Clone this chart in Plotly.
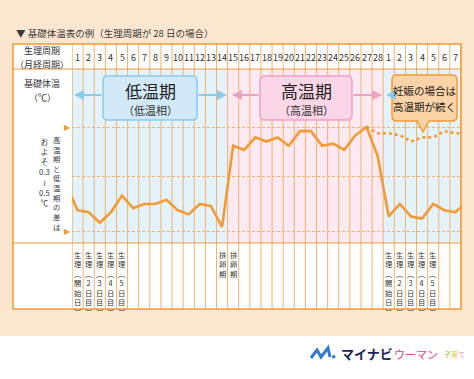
import plotly.graph_objects as go

# ---------------- data ----------------
days_solid = list(range(0, 37))  # day 0 / 36 are neighbouring-cycle days (clipped)
temps_solid = [36.22, 36.10, 36.09, 36.04, 36.09, 36.17, 36.11, 36.13, 36.13, 36.15,
               36.10, 36.08, 36.13, 36.12, 36.02, 36.41, 36.39, 36.45, 36.43, 36.45,
               36.41, 36.48, 36.48, 36.41, 36.42, 36.39, 36.46, 36.50, 36.36, 36.07,
               36.13, 36.07, 36.06, 36.13, 36.10, 36.09, 36.14]
days_preg = [27, 28, 29, 30, 31, 32, 33, 34, 35, 36]
temps_preg = [36.50, 36.47, 36.47, 36.46, 36.43, 36.45, 36.45, 36.48, 36.47, 36.47]
day_labels = [str(i) for i in range(1, 29)] + [str(i) for i in range(1, 8)]
grid_levels = [36.0, 36.26, 36.5]
level_marks = [36.0, 36.5]
low_phase_days = (1, 14)
high_phase_days = (15, 28)
next_cycle_days = (29, 35)
note_days = [1, 2, 3, 4, 5, 14, 15, 29, 30, 31, 32, 33]
note_texts = ["生理︵開始日︶", "生理︵2日目︶", "生理︵3日目︶", "生理︵4日目︶", "生理︵5日目︶",
              "排卵期", "排卵期",
              "生理︵開始日︶", "生理︵2日目︶", "生理︵3日目︶", "生理︵4日目︶", "生理︵5日目︶"]

# ---------------- geometry helpers (decoration only) ----------------
W, H = 474, 379
PL, PR, PT, PB = 72, 461, 69, 243
NCOL = len(day_labels)


def xp(px):
    return (px - PL) / (PR - PL)


def yp(py):
    return (PB - py) / (PB - PT)


FONT = "Noto Sans CJK JP"
ORANGE = "#f29a33"
GRIDC = "#f3b26c"
TXT = "#333333"

fig = go.Figure()
shapes = []
ann = []

# table white background
shapes.append(dict(type="rect", xref="paper", yref="paper", x0=xp(13), x1=xp(PR), y0=yp(309), y1=yp(44),
                   fillcolor="white", line=dict(width=0), layer="below"))
# phase shading
for (a, b), col in [(low_phase_days, "#e4f2fb"), (high_phase_days, "#fde9f1"), (next_cycle_days, "#e4f2fb")]:
    shapes.append(dict(type="rect", xref="x", yref="paper", x0=a - 0.5, x1=b + 0.5, y0=0, y1=1,
                       fillcolor=col, line=dict(width=0), layer="below"))
# column lines
for d in range(0, NCOL + 1):
    shapes.append(dict(type="line", xref="x", yref="paper", x0=d + 0.5, x1=d + 0.5, y0=yp(309), y1=yp(44),
                       line=dict(color=GRIDC if 0 < d < NCOL else ORANGE, width=1), layer="below"))
# horizontal borders
for py in [69, 243]:
    shapes.append(dict(type="line", xref="paper", yref="paper", x0=xp(13), x1=xp(PR), y0=yp(py), y1=yp(py),
                       line=dict(color=ORANGE, width=1.2), layer="below"))
shapes.append(dict(type="rect", xref="paper", yref="paper", x0=xp(13), x1=xp(PR), y0=yp(309), y1=yp(44),
                   line=dict(color=ORANGE, width=1.5), layer="below"))
# footer white strip
shapes.append(dict(type="rect", xref="paper", yref="paper", x0=xp(-5), x1=xp(W + 5), y0=yp(H + 5), y1=yp(336),
                   fillcolor="white", line=dict(width=0), layer="below"))


def rrect(x0, y0, x1, y1, r, pointer=None):
    X, Y = xp, yp
    p = f"M {X(x0 + r)},{Y(y0)} L {X(x1 - r)},{Y(y0)} Q {X(x1)},{Y(y0)} {X(x1)},{Y(y0 + r)} "
    p += f"L {X(x1)},{Y(y1 - r)} Q {X(x1)},{Y(y1)} {X(x1 - r)},{Y(y1)} "
    if pointer:
        cx, tip = pointer
        p += f"L {X(cx + 6)},{Y(y1)} L {X(cx)},{Y(tip)} L {X(cx - 6)},{Y(y1)} "
    p += f"L {X(x0 + r)},{Y(y1)} Q {X(x0)},{Y(y1)} {X(x0)},{Y(y1 - r)} "
    p += f"L {X(x0)},{Y(y0 + r)} Q {X(x0)},{Y(y0)} {X(x0 + r)},{Y(y0)} Z"
    return p


BLUE_A = "#8ccaea"
PINK_A = "#f0a0c3"
shapes.append(dict(type="path", xref="paper", yref="paper", path=rrect(103, 76, 197, 120, 5),
                   fillcolor="#d2e9f8", line=dict(color="#8ccaea", width=1.5), layer="above"))
shapes.append(dict(type="path", xref="paper", yref="paper", path=rrect(260, 76, 352, 120, 5),
                   fillcolor="#fad6e6", line=dict(color="#f0a0c3", width=1.5), layer="above"))
shapes.append(dict(type="path", xref="paper", yref="paper", path=rrect(392, 75, 457, 121, 5, pointer=(423, 132)),
                   fillcolor="#fcd3a6", line=dict(color=ORANGE, width=1.5), layer="above"))


def arrow(head_px, tail_px, py, color):
    ann.append(dict(x=xp(head_px), y=yp(py), xref="paper", yref="paper", ax=tail_px - head_px, ay=0,
                    axref="pixel", ayref="pixel", showarrow=True, arrowhead=2, arrowsize=1,
                    arrowwidth=2, arrowcolor=color, text="", standoff=0, startstandoff=0))


arrow(74, 103, 95, BLUE_A)
arrow(227, 197, 95, BLUE_A)
arrow(232, 260, 95, PINK_A)
arrow(382, 352, 95, PINK_A)
arrow(386, 392, 95, BLUE_A)
arrow(461, 457, 95, BLUE_A)


def text(px, py, s, size, color=TXT, xanchor="center", family=FONT, yanchor="middle"):
    ann.append(dict(x=xp(px), y=yp(py), xref="paper", yref="paper", text=s, showarrow=False,
                    xanchor=xanchor, yanchor=yanchor, font=dict(size=size, color=color, family=family)))


text(150, 90, "低温期", 17, "#222")
text(150, 110, "（低温相）", 11, "#333")
text(306, 90, "高温期", 17, "#222")
text(306, 110, "（高温相）", 11, "#333")
text(424.5, 90.5, "妊娠の場合は", 10.5, "#222")
text(424.5, 106, "高温期が続く", 10.5, "#222")

# title
text(14, 33, "▼ 基礎体温表の例（生理周期が 28 日の場合）", 9.5, "#3a3a3a", xanchor="left")

# header
text(42, 50.5, "生理周期", 9)
text(42, 64, "（月経周期）", 9)
text(42, 83.5, "基礎体温", 9)
text(42, 97, "（℃）", 9)
for i, lab in enumerate(day_labels):
    ann.append(dict(x=i + 1, y=yp(57), xref="x", yref="paper", text=lab, showarrow=False,
                    xanchor="center", yanchor="middle", font=dict(size=9, color=TXT, family=FONT)))

# level triangles
for lv in level_marks:
    ann.append(dict(x=xp(67), y=lv, xref="paper", yref="y", text="▶", showarrow=False,
                    xanchor="center", yanchor="middle", font=dict(size=8, color=ORANGE, family="DejaVu Sans")))

# left vertical note (tategaki: right column first)
text(57, 132, "<br>".join("高温期と低温期の差は"), 7.4, "#3a3a3a", yanchor="top")
text(44, 134, "<br>".join(["お", "よ", "そ", "0.3", "≀", "0.5", "℃"]), 7.8, "#3a3a3a", yanchor="top")

# bottom notes
for d, s in zip(note_days, note_texts):
    ann.append(dict(x=d, y=yp(248), xref="x", yref="paper", text="<br>".join(s), showarrow=False,
                    xanchor="center", yanchor="top", font=dict(size=7.3, color=TXT, family=FONT)))

# logo
shapes.append(dict(type="path", xref="paper", yref="paper",
                   path=f"M {xp(311)},{yp(358)} L {xp(317)},{yp(350)} L {xp(321)},{yp(357)} L {xp(328)},{yp(348)} L {xp(330)},{yp(357)}",
                   line=dict(color="#2f7bd0", width=3), layer="above"))
shapes.append(dict(type="circle", xref="paper", yref="paper", x0=xp(332), x1=xp(335.5), y0=yp(358.5), y1=yp(355),
                   fillcolor="#2f7bd0", line=dict(width=0), layer="above"))
text(339, 353, "<b>マイナビ</b>", 13, "#1b2754", xanchor="left")
text(392, 354, "ウーマン", 11, "#e4467d", xanchor="left")
text(442, 354, "<span style='color:#8cc63f'>子</span><span style='color:#f2c230'>育</span><span style='color:#ef8fb4'>て</span>",
     7, "#8cc63f", xanchor="left")

# ---------------- traces ----------------
fig.add_trace(go.Scatter(x=days_preg, y=temps_preg, mode="lines",
                         line=dict(color=ORANGE, width=2.6, dash="dot"), hoverinfo="skip"))
fig.add_trace(go.Scatter(x=days_solid, y=temps_solid, mode="lines",
                         line=dict(color=ORANGE, width=2.6), hoverinfo="skip"))

y0 = 36.0 - (PB - 231) / 208
y1 = 36.0 + (231 - PT) / 208
fig.update_layout(
    width=W, height=H,
    margin=dict(l=PL, r=W - PR, t=PT, b=H - PB, pad=0, autoexpand=False),
    paper_bgcolor="#fde6cf", plot_bgcolor="rgba(0,0,0,0)",
    showlegend=False,
    font=dict(family=FONT, color=TXT),
    xaxis=dict(range=[0.5, NCOL + 0.5], showgrid=False, zeroline=False, showticklabels=False,
               showline=False, ticks="", fixedrange=True),
    yaxis=dict(range=[y0, y1], tickvals=grid_levels, showticklabels=False, ticks="",
               showgrid=True, gridcolor=GRIDC, gridwidth=1, griddash="3px,2px",
               zeroline=False, showline=False, fixedrange=True),
    shapes=shapes, annotations=ann,
)

fig.write_html("out.html", config={"displayModeBar": False},
               post_script="document.body.style.margin='0';document.body.style.padding='0';")
